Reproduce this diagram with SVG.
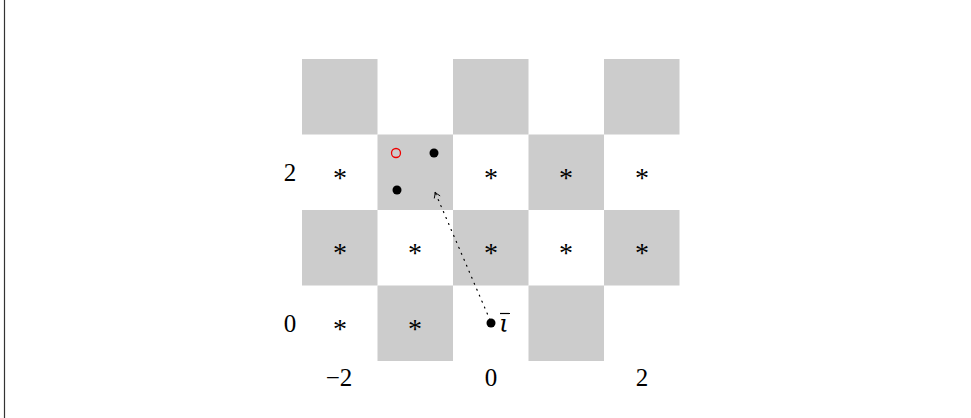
<svg xmlns="http://www.w3.org/2000/svg" width="971" height="418" viewBox="0 0 971 418">
<style>
.cell{fill:#cccccc}
.ast{font-family:"Liberation Serif",serif;font-size:28px;text-anchor:middle;fill:#000}
.lbl{font-family:"Liberation Serif",serif;font-size:25px;text-anchor:middle;fill:#000}
.dot{fill:#000}
</style>
<defs>
<marker id="ah" viewBox="0 0 10 10" refX="8" refY="5" markerWidth="8" markerHeight="8" orient="auto" markerUnits="userSpaceOnUse">
<path d="M1,1 Q5,4 8,5 Q5,6 1,9" fill="none" stroke="#000" stroke-width="1.1"/>
</marker>
</defs>
<rect width="971" height="418" fill="#fff"/>
<line x1="4.5" y1="0" x2="4.5" y2="418" stroke="#333" stroke-width="1.2"/>
<g id="board">
<rect class="cell" x="302" y="59" width="75.5" height="75.5"/>
<rect class="cell" x="453" y="59" width="75.5" height="75.5"/>
<rect class="cell" x="604" y="59" width="75.5" height="75.5"/>
<rect class="cell" x="377.5" y="134.5" width="75.5" height="75.5"/>
<rect class="cell" x="528.5" y="134.5" width="75.5" height="75.5"/>
<rect class="cell" x="302" y="210" width="75.5" height="75.5"/>
<rect class="cell" x="453" y="210" width="75.5" height="75.5"/>
<rect class="cell" x="604" y="210" width="75.5" height="75.5"/>
<rect class="cell" x="377.5" y="285.5" width="75.5" height="75.5"/>
<rect class="cell" x="528.5" y="285.5" width="75.5" height="75.5"/>
</g>
<g id="asterisks">
<text class="ast" x="340" y="187">*</text>
<text class="ast" x="491" y="187">*</text>
<text class="ast" x="566" y="187">*</text>
<text class="ast" x="642" y="187">*</text>
<text class="ast" x="340" y="262">*</text>
<text class="ast" x="415" y="262">*</text>
<text class="ast" x="491" y="262">*</text>
<text class="ast" x="566" y="262">*</text>
<text class="ast" x="642" y="262">*</text>
<text class="ast" x="340" y="338">*</text>
<text class="ast" x="415" y="338">*</text>
</g>
<g id="axis-labels">
<text class="lbl" x="290" y="181">2</text>
<text class="lbl" x="290" y="332">0</text>
<text class="lbl" x="339" y="386">−2</text>
<text class="lbl" x="491" y="386">0</text>
<text class="lbl" x="642" y="386">2</text>
</g>
<g id="points">
<circle cx="396" cy="153" r="4.5" fill="none" stroke="#e00" stroke-width="1.3"/>
<circle class="dot" cx="434" cy="153" r="4.5"/>
<circle class="dot" cx="397" cy="190" r="4.5"/>
</g>
<g id="iota">
<circle class="dot" cx="491" cy="323" r="4.5"/>
<text x="504" y="332" font-family="'DejaVu Serif',serif" font-style="italic" font-size="24" text-anchor="middle">ι</text>
<line x1="500" y1="313.5" x2="510" y2="313.5" stroke="#000" stroke-width="1.2"/>
</g>
<g id="connectors">
<line x1="490" y1="320" x2="435" y2="192" stroke="#000" stroke-width="1.2" stroke-dasharray="1 5.5" stroke-linecap="round" marker-end="url(#ah)"/>
</g>
</svg>
